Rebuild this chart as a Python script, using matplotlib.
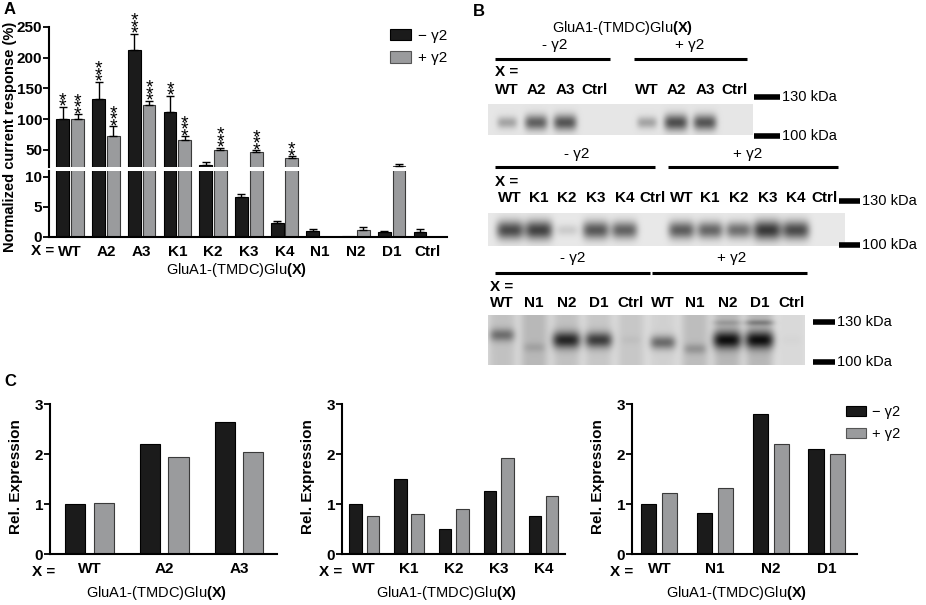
import numpy as np
import matplotlib
matplotlib.use('Agg')
import matplotlib.pyplot as plt
from matplotlib.patches import Patch

plt.rcParams['font.family'] = ['Liberation Sans', 'DejaVu Sans']
plt.rcParams['mathtext.fontset'] = 'custom'
plt.rcParams['mathtext.rm'] = 'Liberation Sans'
plt.rcParams['mathtext.bf'] = 'Liberation Sans:bold'

W, H = 926, 605
BLACK = '#1b1b1b'
GREY = '#9a9b9d'
XLAB = r'GluA1-(TMDC)Glu$\mathbf{(X)}$'

# ---- panel A: normalized current response (%)
a_groups = ['WT', 'A2', 'A3', 'K1', 'K2', 'K3', 'K4', 'N1', 'N2', 'D1', 'Ctrl']
a_minus = [100, 133, 212, 112, 24.5, 6.7, 2.3, 1.05, 0.15, 0.9, 0.9]
a_minus_err = [20, 28, 27, 26, 5.5, 0.5, 0.4, 0.35, 0.0, 0.12, 0.35]
a_plus = [100, 73, 123, 66, 49, 47, 37, 0, 1.2, 24, 0]
a_plus_err = [8, 15, 7, 6, 4.5, 2, 2.5, 0, 0.4, 3, 0]
a_minus_stars = [2, 3, 3, 2, 0, 0, 0, 0, 0, 0, 0]
a_plus_stars = [3, 3, 3, 3, 3, 3, 2, 0, 0, 0, 0]

# ---- panel B: western blot band intensities (0 = none, 1 = saturated)
b1_lanes = ['WT', 'A2', 'A3', 'Ctrl', 'WT', 'A2', 'A3', 'Ctrl']
b1_bands = [0.35, 0.72, 0.78, 0.0, 0.35, 0.82, 0.78, 0.0]
b2_lanes = ['WT', 'K1', 'K2', 'K3', 'K4', 'Ctrl', 'WT', 'K1', 'K2', 'K3', 'K4', 'Ctrl']
b2_bands = [0.85, 0.9, 0.15, 0.78, 0.72, 0.0, 0.75, 0.7, 0.65, 0.95, 0.85, 0.0]
b3_lanes = ['WT', 'N1', 'N2', 'D1', 'Ctrl', 'WT', 'N1', 'N2', 'D1', 'Ctrl']
b3_bands = [0.45, 0.12, 0.85, 0.75, 0.04, 0.55, 0.22, 0.92, 0.92, 0.02]
b3_band_pos = [0.4, 0.65, 0.5, 0.5, 0.5, 0.55, 0.68, 0.5, 0.5, 0.5]
b3_upper = [0.0, 0.0, 0.0, 0.0, 0.0, 0.0, 0.0, 0.15, 0.3, 0.0]
b3_smear = [0.12, 0.16, 0.12, 0.1, 0.1, 0.06, 0.14, 0.16, 0.16, 0.03]

# ---- panel C: relative expression
c1_groups = ['WT', 'A2', 'A3']
c1_minus = [1.0, 2.2, 2.65]
c1_plus = [1.02, 1.94, 2.05]
c2_groups = ['WT', 'K1', 'K2', 'K3', 'K4']
c2_minus = [1.0, 1.5, 0.5, 1.27, 0.77]
c2_plus = [0.76, 0.8, 0.9, 1.92, 1.17]
c3_groups = ['WT', 'N1', 'N2', 'D1']
c3_minus = [1.0, 0.83, 2.8, 2.1]
c3_plus = [1.22, 1.32, 2.2, 2.0]

fig = plt.figure(figsize=(W / 100, H / 100), dpi=100)


def px_axes(x0, y0, x1, y1, **kw):
    return fig.add_axes([x0 / W, 1 - y1 / H, (x1 - x0) / W, (y1 - y0) / H], **kw)


def ftext(x, y, s, **kw):
    return fig.text(x / W, 1 - y / H, s, **kw)


def style(ax, bottom=True):
    for s in ('top', 'right'):
        ax.spines[s].set_visible(False)
    ax.spines['left'].set_linewidth(1.5)
    ax.spines['bottom'].set_linewidth(1.5)
    ax.spines['bottom'].set_visible(bottom)
    ax.tick_params(axis='y', direction='out', length=4, width=1.3, pad=1,
                   labelsize=11)
    ax.tick_params(axis='x', length=0, pad=6, labelsize=11)
    for t in ax.get_yticklabels() + ax.get_xticklabels():
        t.set_fontweight('bold')
    ax.patch.set_alpha(0)


# ================= panel A =================
xa = np.arange(len(a_groups))
off, bw = 0.205, 0.36
up = px_axes(49, 27, 447, 167)
lo = px_axes(49, 171, 447, 237)
for ax in (up, lo):
    ax.bar(xa - off, a_minus, bw, color=BLACK, edgecolor='k', lw=0.8, zorder=2)
    ax.bar(xa + off, a_plus, bw, color=GREY, edgecolor='#3a3a3a', lw=0.8, zorder=2)
    for sgn, vals, errs in ((-1, a_minus, a_minus_err), (1, a_plus, a_plus_err)):
        v, e = np.array(vals, float), np.array(errs, float)
        m = e > 0
        ax.errorbar((xa + sgn * off)[m], v[m], yerr=[np.zeros(m.sum()), e[m]],
                    fmt='none', ecolor='k', elinewidth=1, capsize=3, capthick=1,
                    zorder=3)
    ax.set_xlim(-0.595, 10.55)
up.set_ylim(22, 250)
up.set_yticks([50, 100, 150, 200, 250])
up.set_xticks([])
lo.set_ylim(0, 11)
lo.set_yticks([0, 5, 10])
lo.set_xticks(xa)
lo.set_xticklabels(a_groups)
style(up, bottom=False)
style(lo)

# significance stars, stacked vertically above the error bars (one text each)
for sgn, vals, errs, stars in ((-1, a_minus, a_minus_err, a_minus_stars),
                               (1, a_plus, a_plus_err, a_plus_stars)):
    for i, (v, e, n) in enumerate(zip(vals, errs, stars)):
        if n:
            up.annotate('\n'.join('*' * n), (i + sgn * off, v + e),
                        xytext=(0, -3.5), textcoords='offset points',
                        ha='center', va='baseline', ma='center',
                        linespacing=0.19, fontsize=14, annotation_clip=False)

up.legend(handles=[Patch(facecolor=BLACK, edgecolor='k', lw=0.8),
                   Patch(facecolor=GREY, edgecolor='#555555', lw=0.8)],
          labels=['\u2212 \u03b32', '+ \u03b32'], loc='upper left',
          bbox_to_anchor=(390 / W, 1 - 29 / H), bbox_transform=fig.transFigure,
          frameon=False, fontsize=11, borderpad=0, borderaxespad=0,
          handlelength=1.4, handleheight=0.75, labelspacing=0.55,
          handletextpad=0.4)

ftext(4, 10, 'A', fontsize=12, fontweight='bold', va='center')
ftext(10, 137, 'Normalized current response (%)', rotation=90, fontsize=10.5,
      fontweight='bold', ha='center', va='center')
ftext(43, 251, 'X =', fontsize=11, fontweight='bold', ha='center', va='center')
ftext(237, 270, XLAB, fontsize=10.5, ha='center', va='center')

# ================= panel B =================
ov = fig.add_axes([0, 0, 1, 1], zorder=-1)
ov.axis('off')


def blot(x0, y0, x1, y1, lane_x, dark, pos, bg, sx, sy, smear=None, upper=None):
    xx = np.linspace(x0, x1, int((x1 - x0) * 2))
    yy = np.linspace(y0, y1, int((y1 - y0) * 2))
    X, Y = np.meshgrid(xx, yy)
    img = np.full(X.shape, bg)
    n = len(dark)
    smear = smear if smear is not None else [0] * n
    upper = upper if upper is not None else [0] * n
    for xc, d, p, sm, u in zip(lane_x, dark, pos, smear, upper):
        col = np.exp(-np.abs((X - xc) / (sx * (0.8 + 0.35 * d))) ** 4)
        yc = y0 + p * (y1 - y0)
        img -= sm * np.exp(-np.abs((X - xc) / (sx * 1.1)) ** 4)
        img -= 0.72 * d * col * np.exp(-((Y - yc) / (sy * (0.55 + 0.6 * d))) ** 2)
        if u:
            yu = y0 + 0.15 * (y1 - y0)
            img -= 0.72 * u * col * np.exp(-((Y - yu) / 3.0) ** 2)
    ov.imshow(np.clip(img, 0, 1), extent=(x0, x1, y1, y0), cmap='gray', vmin=0,
              vmax=1, aspect='auto', interpolation='bilinear')


def lane_pos(first, step, n, split=None, gap=0.0):
    i = np.arange(n, dtype=float)
    if split is not None:
        i = i + gap * (i >= split)
    return first + step * i


def marker(x0, x1, y, label):
    ov.plot([x0, x1], [y, y], color='k', lw=4, solid_capstyle='butt')
    ov.text(x1 + 2, y, label, fontsize=10.5, va='center', ha='left')


def header(xm, xp, y_txt, lines, y_line):
    ov.text(xm, y_txt, '- \u03b32', fontsize=11, ha='center', va='center')
    ov.text(xp, y_txt, '+ \u03b32', fontsize=11, ha='center', va='center')
    for a, b in lines:
        ov.plot([a, b], [y_line, y_line], color='k', lw=2.2, solid_capstyle='butt')


def lane_labels(xs, labels, y, x_eq, y_eq):
    ov.text(x_eq, y_eq, 'X =', fontsize=11, fontweight='bold', ha='left', va='center')
    for x, s in zip(xs, labels):
        ov.text(x, y, s, fontsize=11, fontweight='bold', ha='center', va='center')


ov.text(473, 11, 'B', fontsize=12, fontweight='bold', va='center')
ov.text(623, 28, XLAB, fontsize=10.5, ha='center', va='center')

# blot 1
x1s = lane_pos(507, 29, len(b1_lanes), split=4, gap=0.83)
header(555, 690, 45, [(495, 610), (634, 747)], 59)
lane_labels(x1s, b1_lanes, 90, 495, 72)
blot(488, 104, 753, 135, x1s, b1_bands, [0.6] * len(b1_bands), 0.9, 11, 8)
marker(754, 780, 97, '130 kDa')
marker(754, 780, 136, '100 kDa')

# blot 2
x2s = lane_pos(510, 28.6, len(b2_lanes))
header(577, 748, 154, [(495, 655), (668, 838)], 167)
lane_labels(x2s, b2_lanes, 198, 495, 182)
blot(488, 213, 845, 246, x2s, b2_bands, [0.52] * len(b2_bands), 0.91, 12.5, 9)
marker(839, 860, 201, '130 kDa')
marker(839, 860, 245, '100 kDa')

# blot 3
x3s = lane_pos(502, 32.2, len(b3_lanes))
header(573, 732, 258, [(495, 650), (652, 807)], 273)
lane_labels(x3s, b3_lanes, 303, 490, 287)
blot(488, 315, 805, 365, x3s, b3_bands, b3_band_pos, 0.88, 13, 8,
     smear=b3_smear, upper=b3_upper)
marker(813, 835, 322, '130 kDa')
marker(813, 835, 362, '100 kDa')

ov.set_xlim(0, W)
ov.set_ylim(H, 0)

# ================= panel C =================
ftext(4, 382, 'C', fontsize=12, fontweight='bold', va='center')


def panel_c(rect, groups, minus, plus, xlim, xeq, xlab_x):
    ax = px_axes(*rect)
    x = np.arange(len(groups))
    ax.bar(x - 0.19, minus, 0.27, color=BLACK, edgecolor='k', lw=0.8)
    ax.bar(x + 0.19, plus, 0.27, color=GREY, edgecolor='#3a3a3a', lw=0.8)
    ax.set_xlim(*xlim)
    ax.set_ylim(0, 3)
    ax.set_yticks([0, 1, 2, 3])
    ax.set_xticks(x)
    ax.set_xticklabels(groups)
    style(ax)
    ftext(rect[0] - 34, 477, 'Rel. Expression', rotation=90, fontsize=11,
          fontweight='bold', ha='center', va='center')
    ftext(xeq, 572, 'X =', fontsize=11, fontweight='bold', ha='center', va='center')
    ftext(xlab_x, 593, XLAB, fontsize=10.5, ha='center', va='center')
    return ax


panel_c((50, 404, 277, 554), c1_groups, c1_minus, c1_plus, (-0.527, 2.507), 44, 157)
panel_c((342, 404, 565, 554), c2_groups, c2_minus, c2_plus, (-0.49, 4.47), 331, 447)
c3 = panel_c((632, 404, 857, 554), c3_groups, c3_minus, c3_plus, (-0.49, 3.545), 622, 737)
c3.legend(handles=[Patch(facecolor=BLACK, edgecolor='k', lw=0.8),
                   Patch(facecolor=GREY, edgecolor='#555555', lw=0.8)],
          labels=['\u2212 \u03b32', '+ \u03b32'], loc='upper left',
          bbox_to_anchor=(846 / W, 1 - 405 / H), bbox_transform=fig.transFigure,
          frameon=False, fontsize=10.5, borderpad=0, borderaxespad=0,
          handlelength=1.4, handleheight=0.75, labelspacing=0.55,
          handletextpad=0.4)

fig.savefig('out.png', dpi=100)
